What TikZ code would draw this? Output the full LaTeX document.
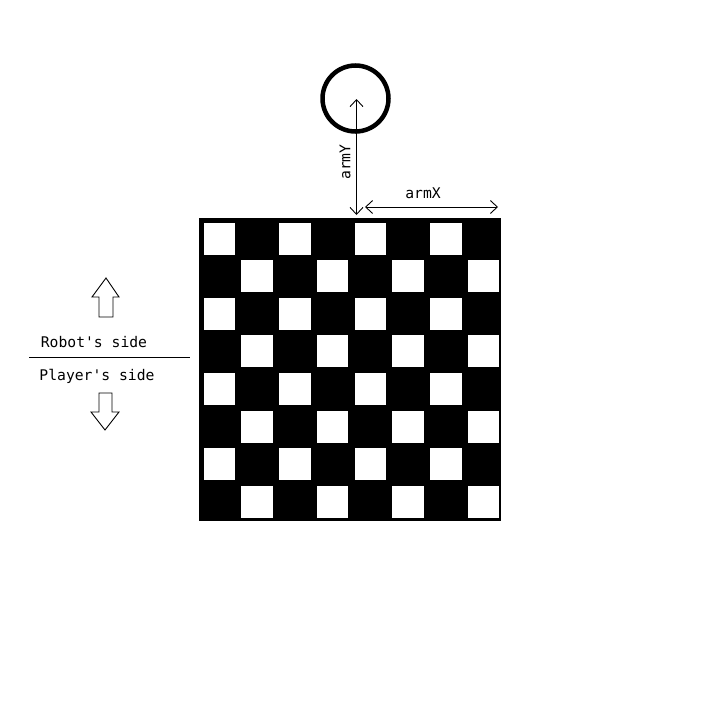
\documentclass[tikz,border=0pt]{standalone}
\usepackage{fontspec}
\setmonofont{DejaVu Sans Mono}
\usetikzlibrary{arrows.meta}
\tikzset{
  lbl/.style={font=\ttfamily\fontsize{14.7}{17}\selectfont, inner sep=0pt, text=black},
  dim/.style={line width=0.9pt, {Straight Barb[length=7pt,width=13pt]}-{Straight Barb[length=7pt,width=13pt]}},
  blockarrow/.style={draw=black, line width=0.9pt, fill=white, line join=miter},
  sq/.style={fill=white}
}
\begin{document}
\begin{tikzpicture}[x=1pt,y=-1pt]
\useasboundingbox[fill=white] (0,0) rectangle (720,720);
% board
\fill[black] (199,218) rectangle (501,521);
\foreach \r in {0,...,7}{
  \foreach \c in {0,...,7}{
    \pgfmathtruncatemacro{\p}{mod(\r+\c,2)}
    \ifnum\p=0
      \fill[sq] ({199+\c*37.75+4.5},{218+\r*37.6+4.5}) rectangle ++(31.5,32);
    \fi
  }
}
\coordinate (ytop) at (356.5,215);
\coordinate (xl) at (365,207);
\coordinate (xr) at (498,207);
% arm circle
\node[circle, draw=black, line width=4.5pt, minimum size=66pt, inner sep=0pt] (arm) at (355.5,98.5) {};
\coordinate (armc) at (356.5,99);
\draw[dim] (armc) -- (ytop);
\draw[dim] (xl) -- (xr);
\node[lbl, rotate=90] (armY) at (345,162) {armY};
\node[lbl] (armX) at (423,193) {armX};
% side labels
\node[lbl] (robot) at (94,342) {Robot's side};
\node[lbl] (player) at (97,376) {Player's side};
\coordinate (sl) at (29,357);
\coordinate (sr) at (190,357);
\draw[line width=0.9pt] (sl) -- (sr);
% up arrow
\draw[blockarrow] (106,278) -- (119,297) -- (113,297) -- (113,317) -- (99,317) -- (99,297) -- (92,297) -- cycle;
% down arrow
\draw[blockarrow] (105,430) -- (119,412) -- (112,412) -- (112,393) -- (99,393) -- (99,412) -- (91,412) -- cycle;
\end{tikzpicture}
\end{document}
